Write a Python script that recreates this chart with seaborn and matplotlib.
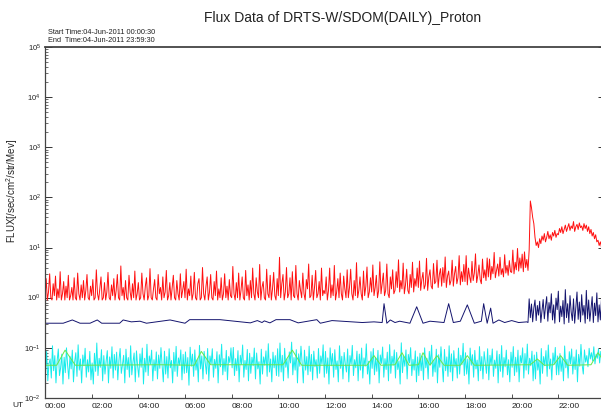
import numpy as np
import pandas as pd
import matplotlib
matplotlib.use("Agg")
import matplotlib.pyplot as plt
import seaborn as sns
from matplotlib.ticker import LogLocator, FixedLocator, FixedFormatter, NullFormatter

sns.set_style("ticks")
plt.rcParams["font.family"] = ["Liberation Sans", "DejaVu Sans"]
plt.rcParams["mathtext.fontset"] = "custom"
plt.rcParams["mathtext.rm"] = "Liberation Sans"
plt.rcParams["mathtext.it"] = "Liberation Sans:italic"

TITLE = "Flux Data of DRTS-W/SDOM(DAILY)_Proton"
START_TIME = "Start Time:04-Jun-2011 00:00:30"
END_TIME = "End  Time:04-Jun-2011 23:59:30"
Y_LABEL = "FLUX[/sec/cm$^2$/str/Mev]"
X_TICK_HOURS = [0, 2, 4, 6, 8, 10, 12, 14, 16, 18, 20, 22]
X_TICK_LABELS = ["00:00", "02:00", "04:00", "06:00", "08:00", "10:00",
                 "12:00", "14:00", "16:00", "18:00", "20:00", "22:00"]
Y_TICK_VALUES = [1e-2, 1e-1, 1e0, 1e1, 1e2, 1e3, 1e4, 1e5]
Y_TICK_LABELS = ["10$^{-2}$", "10$^{-1}$", "10$^{0}$", "10$^{1}$",
                 "10$^{2}$", "10$^{3}$", "10$^{4}$", "10$^{5}$"]

# Channel 1 (red): 3-minute samples, one row per hour
red_flux = [
    1.0, 2.4, 0.9, 1.3, 3.0, 1.0, 0.9, 1.9, 1.1, 2.7, 0.9, 1.5, 1.0, 3.3, 0.9, 1.2, 2.1, 0.9, 1.7, 1.0,
    2.8, 0.9, 1.1, 1.6, 0.9, 2.5, 1.0, 0.9, 3.1, 1.2, 0.9, 1.8, 1.0, 2.2, 0.9, 1.4, 2.9, 1.0, 0.9, 1.7,
    1.1, 2.3, 0.9, 1.0, 3.6, 1.2, 0.9, 1.5, 2.6, 0.9, 1.0, 2.0, 0.9, 1.3, 3.2, 1.0, 0.9, 1.8, 1.1, 2.4,
    0.9, 1.4, 2.9, 1.0, 0.9, 4.3, 1.1, 1.6, 0.9, 2.2, 1.0, 0.9, 2.8, 1.3, 0.9, 1.9, 1.0, 3.4, 0.9, 1.2,
    2.0, 0.9, 1.0, 3.1, 1.2, 0.9, 1.7, 2.5, 0.9, 1.1, 3.8, 1.0, 0.9, 1.5, 2.3, 1.0, 0.9, 2.9, 1.2, 1.6,
    0.9, 2.6, 1.0, 1.3, 3.5, 0.9, 1.1, 2.0, 0.9, 1.6, 2.8, 1.0, 0.9, 2.2, 1.2, 0.9, 3.0, 1.0, 1.4, 2.1,
    1.0, 3.7, 0.9, 1.5, 1.1, 2.7, 0.9, 1.2, 3.2, 1.0, 0.9, 1.9, 2.4, 0.9, 1.0, 4.0, 1.2, 0.9, 1.7, 2.6,
    0.9, 1.3, 2.9, 1.0, 0.9, 2.1, 1.1, 3.4, 0.9, 1.5, 1.0, 2.5, 0.9, 1.2, 3.0, 1.0, 1.7, 0.9, 2.3, 1.1,
    1.0, 4.2, 1.2, 0.9, 2.0, 1.0, 3.1, 0.9, 1.4, 2.6, 1.0, 0.9, 3.5, 1.1, 1.8, 0.9, 2.2, 1.0, 3.9, 1.2,
    0.9, 2.5, 1.3, 1.0, 4.6, 0.9, 1.6, 2.1, 1.0, 0.9, 3.7, 1.2, 1.0, 2.8, 0.9, 1.5, 3.2, 1.1, 0.9, 2.4,
    1.1, 6.4, 1.0, 1.9, 2.9, 0.9, 1.3, 4.0, 1.0, 1.2, 2.5, 0.9, 3.3, 1.1, 1.0, 4.4, 1.2, 0.9, 2.2, 1.4,
    1.0, 3.1, 1.2, 0.9, 2.3, 1.5, 4.7, 1.0, 1.1, 2.8, 0.9, 1.6, 3.5, 1.0, 1.2, 2.1, 0.9, 3.9, 1.1, 1.4,
    1.2, 2.6, 0.9, 1.4, 3.9, 1.0, 1.8, 1.1, 4.4, 0.9, 1.3, 2.4, 1.0, 3.1, 1.2, 0.9, 2.7, 1.5, 1.0, 3.6,
    1.0, 1.6, 3.7, 1.2, 0.9, 2.2, 1.1, 5.0, 1.0, 1.4, 2.6, 1.2, 0.9, 3.4, 1.1, 1.7, 4.1, 1.0, 1.3, 2.5,
    1.3, 4.5, 1.1, 1.6, 2.8, 1.0, 1.4, 5.2, 1.2, 1.9, 3.1, 1.1, 1.4, 4.7, 1.2, 1.0, 2.6, 1.5, 3.6, 1.2,
    1.4, 3.3, 1.6, 5.7, 1.3, 2.2, 1.5, 4.9, 1.2, 1.8, 3.7, 1.4, 1.2, 2.9, 1.6, 5.1, 1.3, 2.4, 1.7, 3.9,
    1.6, 5.4, 1.4, 2.3, 3.2, 1.5, 1.8, 6.1, 1.4, 2.6, 3.6, 1.7, 1.5, 4.8, 1.9, 2.1, 5.6, 1.6, 2.9, 3.8,
    1.7, 4.0, 2.0, 6.5, 1.6, 2.7, 3.4, 1.8, 2.2, 5.6, 1.7, 3.0, 4.2, 1.9, 2.5, 6.9, 1.8, 3.3, 2.1, 4.6,
    2.1, 6.9, 1.8, 3.9, 2.6, 2.0, 5.3, 2.2, 3.1, 7.5, 2.0, 2.8, 4.5, 2.3, 1.9, 5.9, 2.5, 3.6, 2.2, 6.2,
    2.6, 5.9, 2.3, 4.2, 3.0, 8.0, 2.5, 3.5, 4.7, 2.7, 6.4, 2.9, 3.8, 2.6, 7.2, 3.1, 4.4, 2.8, 5.5, 3.3,
    3.2, 8.9, 3.0, 5.1, 3.6, 9.6, 3.4, 6.2, 3.9, 7.4, 3.3, 8.2, 4.0, 5.8, 3.5, 9.0, 85.0, 62.0, 40.0, 30.0,
    16.0, 11.0, 13.0, 10.0, 15.0, 12.0, 17.0, 14.0, 19.0, 13.0, 16.0, 21.0, 15.0, 18.0, 14.0, 20.0, 17.0, 22.0, 16.0, 19.0,
    18.0, 24.0, 20.0, 26.0, 19.0, 23.0, 28.0, 21.0, 25.0, 30.0, 22.0, 27.0, 24.0, 33.0, 21.0, 26.0, 29.0, 23.0, 31.0, 25.0,
    27.0, 22.0, 30.0, 24.0, 28.0, 21.0, 26.0, 19.0, 23.0, 17.0, 20.0, 15.0, 18.0, 13.0, 14.0, 11.0, 13.0, 10.0, 12.0, 11.0,
]

# Channel 4 (cyan): 3-minute samples, one row per hour
cyan_flux = [
    .030, .085, .022, .048, .060, .025, .110, .035, .070, .020, .055, .095, .028, .040, .075, .019, .065, .032, .100, .045,
    .024, .068, .038, .090, .021, .052, .080, .027, .115, .036, .060, .020, .072, .044, .098, .026, .058, .033, .085, .023,
    .050, .019, .078, .034, .125, .028, .062, .041, .092, .022, .070, .030, .054, .088, .020, .066, .039, .105, .025, .074,
    .036, .082, .023, .057, .097, .031, .046, .071, .020, .094, .037, .064, .026, .110, .029, .052, .079, .021, .087, .043,
    .026, .076, .041, .099, .019, .062, .033, .118, .028, .069, .047, .090, .022, .058, .035, .083, .024, .072, .039, .101,
    .044, .021, .086, .030, .067, .025, .096, .040, .056, .020, .081, .034, .107, .027, .063, .045, .091, .023, .074, .031,
    .083, .032, .064, .018, .103, .043, .075, .027, .091, .036, .058, .021, .112, .038, .069, .024, .085, .049, .030, .097,
    .022, .069, .048, .096, .026, .059, .039, .084, .020, .073, .042, .118, .029, .061, .034, .089, .023, .067, .051, .100,
    .040, .102, .028, .061, .035, .088, .021, .071, .047, .114, .026, .056, .037, .093, .022, .078, .031, .065, .044, .099,
    .024, .079, .038, .053, .019, .094, .030, .066, .045, .087, .027, .121, .033, .060, .021, .082, .040, .070, .028, .096,
    .027, .125, .033, .071, .022, .098, .041, .060, .025, .083, .050, .130, .029, .064, .036, .092, .020, .076, .043, .108,
    .050, .020, .090, .036, .067, .029, .108, .034, .074, .023, .086, .042, .058, .025, .097, .031, .069, .047, .115, .026,
    .085, .031, .063, .019, .100, .044, .077, .026, .092, .037, .055, .021, .110, .039, .068, .024, .081, .048, .033, .095,
    .021, .070, .047, .112, .028, .058, .040, .086, .022, .075, .036, .099, .025, .063, .043, .120, .030, .054, .019, .084,
    .039, .097, .029, .064, .034, .089, .020, .072, .049, .104, .026, .061, .037, .082, .022, .116, .031, .068, .045, .091,
    .025, .081, .037, .055, .019, .126, .032, .068, .043, .091, .024, .074, .050, .101, .028, .059, .036, .087, .021, .066,
    .028, .078, .035, .069, .023, .100, .040, .062, .024, .085, .046, .113, .027, .057, .033, .094, .020, .073, .041, .105,
    .048, .021, .093, .035, .066, .027, .110, .033, .076, .022, .088, .041, .061, .025, .099, .030, .071, .046, .123, .028,
    .080, .030, .060, .019, .099, .045, .073, .026, .089, .038, .057, .022, .106, .035, .067, .024, .084, .050, .031, .096,
    .023, .071, .046, .095, .027, .057, .039, .087, .020, .074, .034, .111, .026, .064, .042, .090, .029, .058, .021, .082,
    .041, .106, .028, .065, .033, .090, .021, .070, .050, .100, .025, .077, .036, .119, .030, .062, .044, .086, .022, .072,
    .024, .082, .036, .056, .019, .097, .031, .067, .044, .088, .027, .114, .038, .060, .023, .079, .047, .102, .029, .069,
    .029, .077, .034, .063, .022, .109, .040, .059, .025, .084, .048, .095, .030, .066, .037, .091, .021, .074, .043, .117,
    .046, .030, .091, .052, .070, .042, .098, .060, .080, .055, .105, .048, .075, .062, .095, .050, .085, .058, .110, .065,
]

# Channel 2 (navy): irregular quiet-time samples, then 3-minute samples from 20:42
navy_quiet_hours = [
    0.0, 0.78, 1.17, 1.5, 1.93, 2.24, 2.43, 3.2, 3.35, 3.7, 4.07, 4.35,
    5.36, 6.0, 6.2, 7.5, 8.8, 9.1, 9.3, 9.4, 9.64, 9.9, 10.5, 10.85,
    11.65, 11.8, 12.3, 13.6, 14.1, 14.45, 14.53, 14.65, 14.8, 15.0,
    15.2, 15.64, 15.93, 16.2, 16.5, 17.1, 17.3, 17.5, 17.8, 18.1, 18.4,
    18.7, 18.8, 18.95, 19.1, 19.2, 19.45, 19.7, 20.0, 20.3, 20.65,
]
navy_quiet_flux = [
    0.31, 0.31, 0.36, 0.31, 0.31, 0.36, 0.31, 0.31, 0.36, 0.33, 0.34, 0.31,
    0.36, 0.31, 0.365, 0.365, 0.315, 0.35, 0.32, 0.345, 0.315, 0.365, 0.365, 0.315,
    0.365, 0.31, 0.35, 0.32, 0.33, 0.32, 0.76, 0.31, 0.36, 0.32,
    0.34, 0.31, 0.66, 0.31, 0.34, 0.32, 0.76, 0.32, 0.34, 0.72, 0.31,
    0.34, 0.76, 0.31, 0.62, 0.31, 0.36, 0.32, 0.35, 0.32, 0.33,
]
navy_active_flux = [
    0.32, 0.95, 0.40, 0.75, 0.33, 0.62, 0.90, 0.35, 0.70, 0.45,
    0.85, 0.32, 0.55, 0.92, 0.38, 0.66, 1.05, 0.34, 0.80, 0.50,
    1.20, 0.36, 0.72, 0.31, 0.98, 0.58, 1.35, 0.33, 0.68, 0.42,
    0.88, 0.30, 1.45, 0.40, 0.76, 0.32, 1.10, 0.52, 0.35, 0.95,
    0.31, 0.64, 1.30, 0.37, 0.82, 0.33, 1.15, 0.45, 0.70, 0.31,
    1.40, 0.38, 0.90, 0.34, 0.60, 1.05, 0.32, 0.78, 0.44, 1.25,
    0.33, 0.72, 0.36, 0.95, 0.40, 0.55,
]

# Channel 3 (green): irregular samples
green_hours = [
    0.0, 0.5, 0.86, 1.3, 5.0, 6.4, 6.7, 7.1, 10.2, 10.6, 11.0, 13.8, 14.1,
    14.4, 15.0, 15.3, 15.6, 16.0, 16.2, 16.5, 16.8, 17.1, 17.8, 18.1, 18.4,
    20.8, 21.1, 21.4, 21.8, 22.1, 22.4, 23.4, 23.7, 24.0,
]
green_flux = [
    .045, .045, .090, .045, .046, .045, .085, .046, .046, .090, .045, .045, .070,
    .045, .046, .080, .045, .046, .080, .045, .070, .045, .045, .070, .045,
    .046, .060, .045, .046, .070, .045, .046, .080, .050,
]

# Sample times in hours of day
red_hours = np.arange(len(red_flux)) * 0.05
cyan_hours = np.arange(len(cyan_flux)) * 0.05 + 0.02
navy_active_hours = 20.70 + np.arange(len(navy_active_flux)) * 0.05
navy_hours = np.concatenate([navy_quiet_hours, navy_active_hours])
navy_flux = np.concatenate([navy_quiet_flux, navy_active_flux])

W, H = 601, 414
fig = plt.figure(figsize=(W / 100, H / 100), dpi=100)
ax = fig.add_axes([45 / W, (H - 399) / H, 560 / W, 351 / H])

lw = 0.7
sns.lineplot(x=red_hours, y=red_flux, ax=ax, color="#ff1010", lw=lw,
             estimator=None, sort=False)
sns.lineplot(x=navy_hours, y=navy_flux, ax=ax, color="#14146e", lw=lw,
             estimator=None, sort=False)
sns.lineplot(x=cyan_hours, y=cyan_flux, ax=ax, color="#18ecec", lw=lw,
             estimator=None, sort=False)
sns.lineplot(x=green_hours, y=green_flux, ax=ax, color="#66e84a", lw=0.7,
             estimator=None, sort=False)

ax.set_yscale("log")
ax.set_ylim(1e-2, 1e5)
ax.set_xlim(0, 24)
ax.yaxis.set_major_locator(FixedLocator(Y_TICK_VALUES))
ax.yaxis.set_major_formatter(FixedFormatter(Y_TICK_LABELS))
ax.yaxis.set_minor_locator(LogLocator(base=10, subs=np.arange(2, 10), numticks=20))
ax.yaxis.set_minor_formatter(NullFormatter())
ax.set_xticks(X_TICK_HOURS)
ax.set_xticklabels(X_TICK_LABELS, ha="left")
ax.tick_params(axis="both", which="both", direction="in", labelsize=6,
               colors="#333333", labelcolor="#222222")
ax.tick_params(axis="y", which="both", right=True, labelsize=5.5)
ax.tick_params(axis="y", which="major", length=5, width=0.7, pad=3)
ax.tick_params(axis="y", which="minor", length=2.5, width=0.5)
ax.tick_params(axis="x", which="major", length=3, width=0.6, pad=3)
for lab in ax.get_yticklabels():
    lab.set_va("center")
ax.set_xlabel("")
ax.set_ylabel("")
for side in ["left", "bottom", "top", "right"]:
    ax.spines[side].set_visible(True)
    ax.spines[side].set_color("#444444")
    ax.spines[side].set_linewidth(0.9)
ax.spines["top"].set_linewidth(1.3)

fig.text(343 / W, 1 - 18 / H, TITLE, ha="center", va="center", fontsize=10,
         color="#222222")
fig.text(48 / W, 1 - 33 / H, START_TIME, ha="left", va="center", fontsize=5.3,
         color="#222222")
fig.text(48 / W, 1 - 40.5 / H, END_TIME, ha="left", va="center", fontsize=5.3,
         color="#222222")
fig.text(12 / W, 1 - 191 / H, Y_LABEL, ha="center", va="center", rotation=90,
         fontsize=7, color="#222222")
fig.text(18 / W, 1 - 406 / H, "UT", ha="center", va="center", fontsize=6,
         color="#222222")

fig.savefig("out.png", dpi=100)
